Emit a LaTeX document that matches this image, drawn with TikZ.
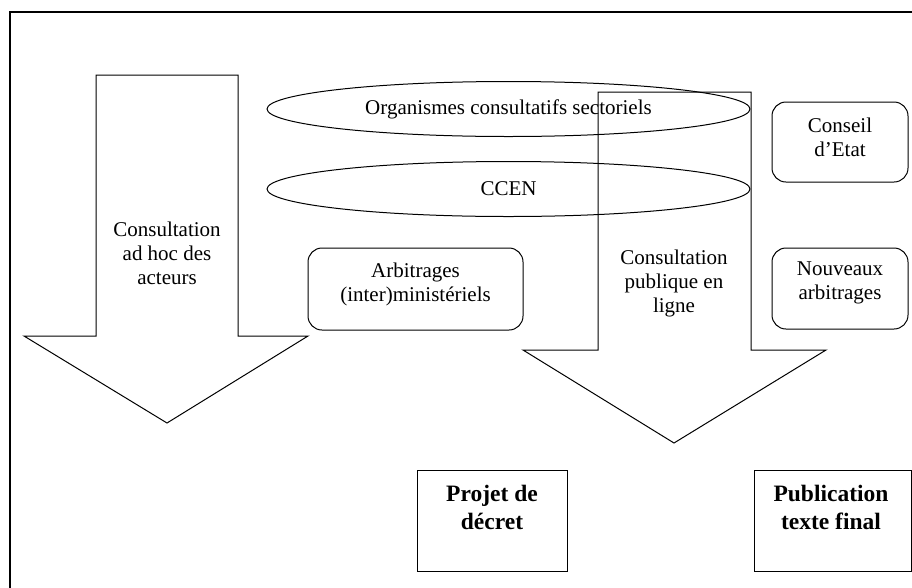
\documentclass[tikz,border=0pt]{standalone}
\usepackage{fontspec}
\setmainfont{Liberation Serif}
\usetikzlibrary{shapes.geometric}
\begin{document}
\begin{tikzpicture}[x=1pt,y=-1pt,line width=1pt,
  txt/.style={align=center,inner sep=0pt,font=\fontsize{21}{24}\selectfont},
  boldtxt/.style={align=center,inner sep=0pt,font=\fontsize{23.5}{28}\selectfont\bfseries},
  roundbox/.style={draw,rounded corners=14pt,inner sep=0pt},
  plainbox/.style={draw,inner sep=0pt},
  oval/.style={draw,ellipse,inner sep=0pt,minimum width=483pt,minimum height=55pt,
    font=\fontsize{21}{24}\selectfont},
  bigarrow/.style={draw,line join=miter}]
\clip (0,0) rectangle (912,587);
% outer frame
\draw[line width=1.2pt] (10,12) rectangle (914,590);
% left arrow
\draw[bigarrow] (96,75) -- (238,75) -- (238,336) -- (308,336) -- (167,423)
  -- (24,336) -- (96,336) -- cycle;
\node[txt] (adhoc) at (167,253) {Consultation\\ad hoc des\\acteurs};
% ellipses
\node[oval] (orga) at (508.5,109) {Organismes consultatifs sectoriels};
\node[oval] (ccen) at (508.5,189) {CCEN};
% right arrow
\draw[bigarrow] (598,92) -- (751,92) -- (751,350) -- (826,350) -- (674,443)
  -- (523,350) -- (598,350) -- cycle;
\node[txt] (public) at (674,283) {Consultation\\publique en\\ligne};
% rounded boxes
\node[roundbox,minimum width=215pt,minimum height=82pt] (arb) at (415.5,289) {};
\node[txt] (arblbl) at (415.5,284) {Arbitrages\\(inter)ministériels};
\node[roundbox,minimum width=136pt,minimum height=80pt] (conseil) at (840,142) {};
\node[txt] (conseillbl) at (840,137) {Conseil\\d’Etat};
\node[roundbox,minimum width=136pt,minimum height=81pt] (nouveaux) at (840,288.5) {};
\node[txt] (nouveauxlbl) at (840,283) {Nouveaux\\arbitrages};
% bottom boxes
\node[plainbox,minimum width=150pt,minimum height=101pt] (projet) at (492,520.5) {};
\node[boldtxt] (projetlbl) at (492,507) {Projet de\\décret};
\node[plainbox,minimum width=157pt,minimum height=101pt] (publi) at (832.5,520.5) {};
\node[boldtxt] (publilbl) at (831,507) {Publication\\texte final};
\end{tikzpicture}
\end{document}
